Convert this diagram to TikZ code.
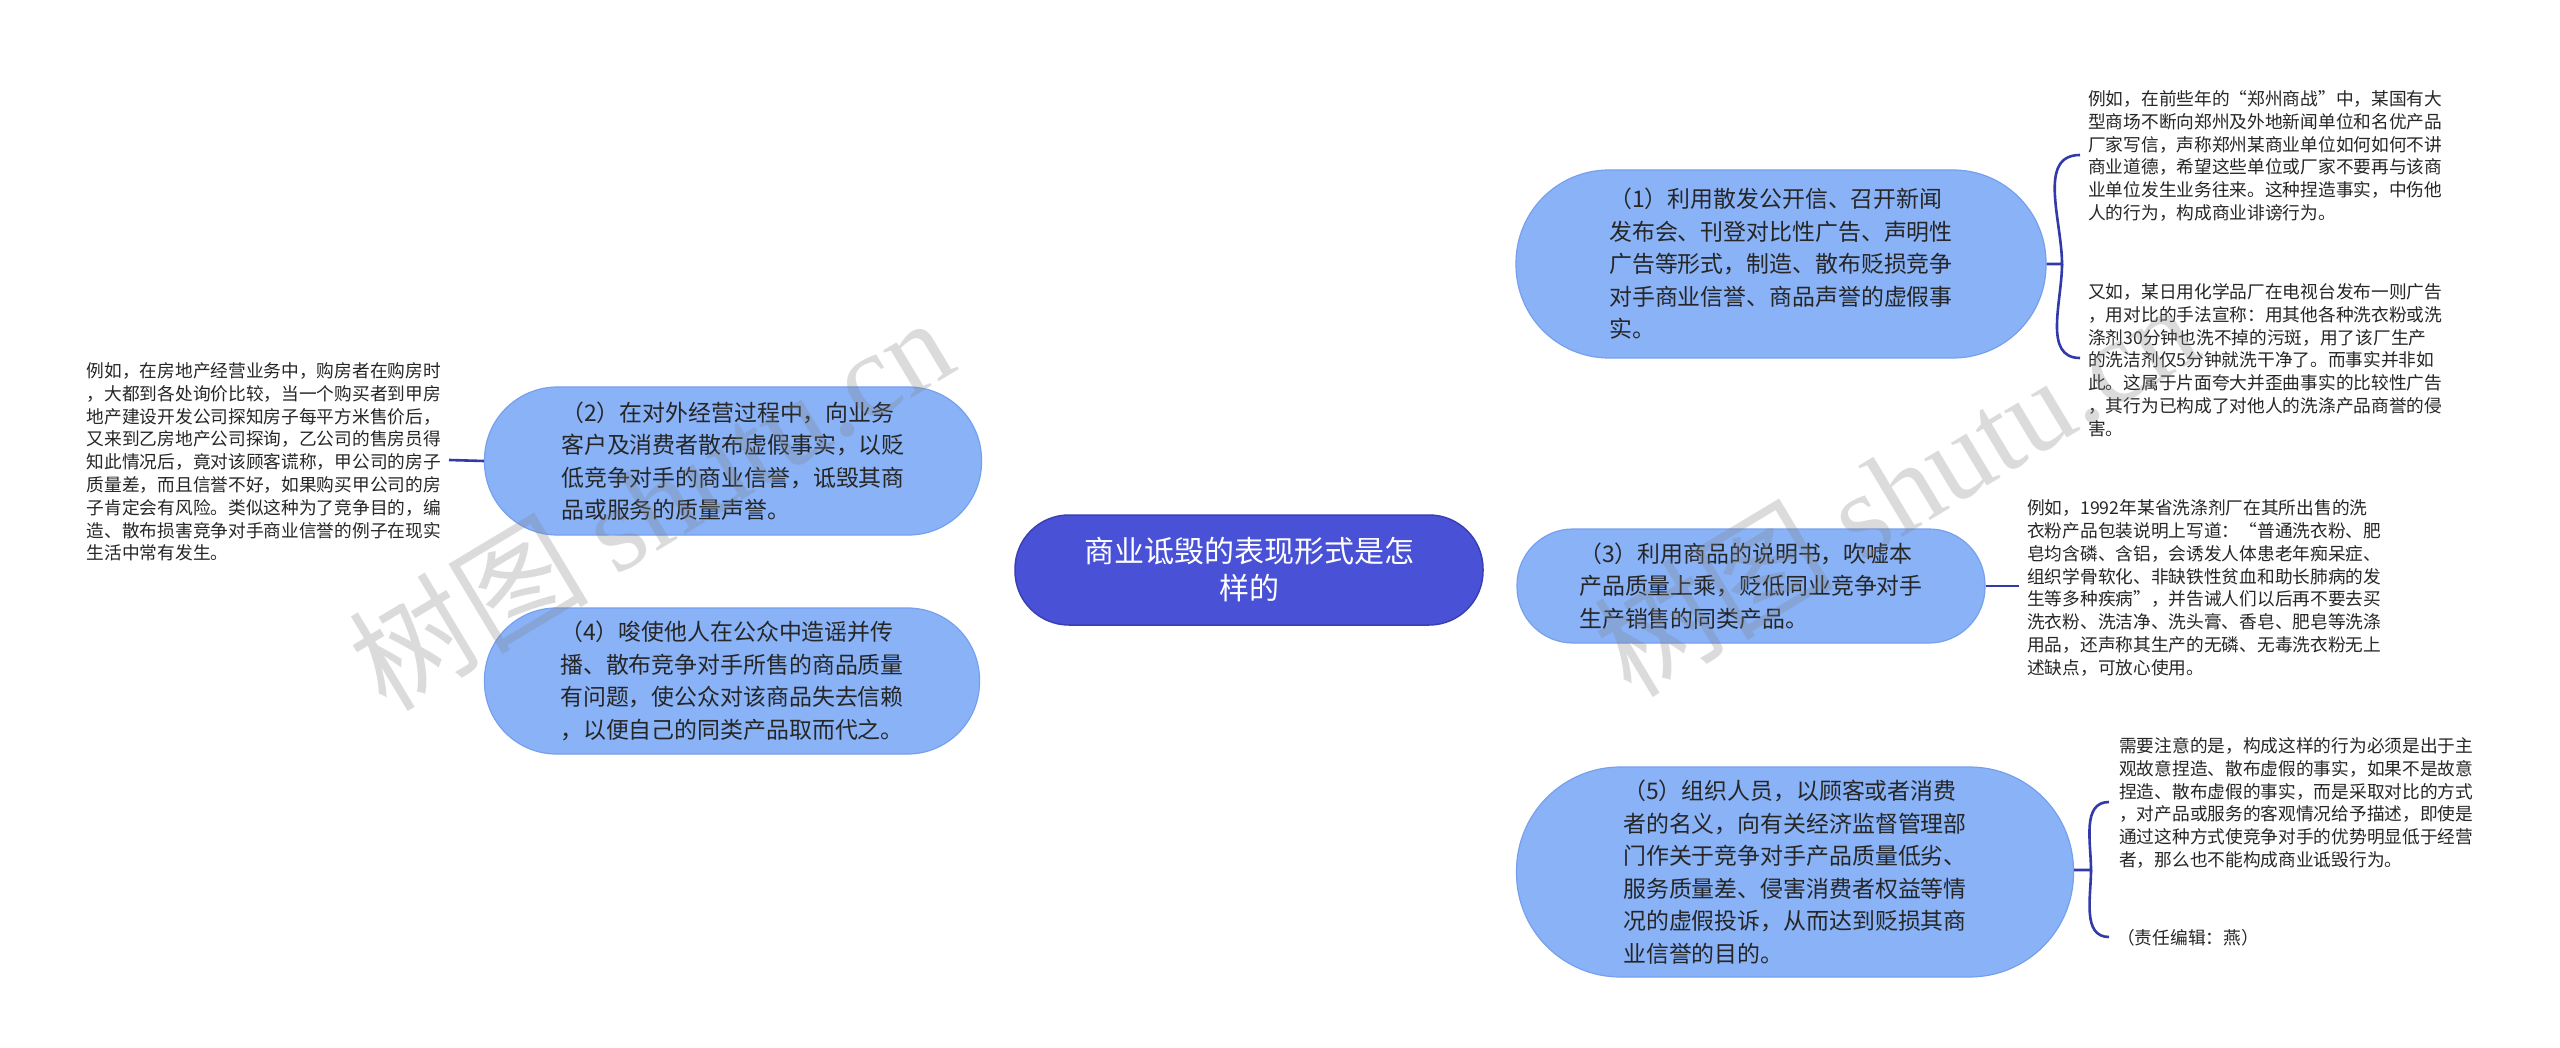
\documentclass[tikz,border=0pt]{standalone}
\usepackage{fontspec}
\setmainfont{Noto Sans CJK SC}
\newfontfamily\wmlatin{Liberation Serif}
\usetikzlibrary{backgrounds}
\definecolor{nodeblue}{RGB}{137,178,247}
\definecolor{nodeedge}{RGB}{118,160,238}
\definecolor{rootblue}{RGB}{73,81,214}
\definecolor{rootedge}{RGB}{58,64,180}
\definecolor{linecol}{RGB}{50,58,168}
\definecolor{textdark}{RGB}{38,38,38}
\tikzset{
  topic/.style={rectangle, fill=nodeblue, draw=nodeedge, line width=1.2pt, text=textdark,
    align=left, inner sep=0pt, font=\fontsize{22.9}{32.5}\selectfont},
  rootbox/.style={rectangle, fill=rootblue, draw=rootedge, line width=1.5pt, text=white,
    align=center, inner sep=0pt, font=\fontsize{30}{37}\selectfont},
  leaf/.style={align=left, inner sep=0pt, text=textdark, font=\fontsize{17.7}{22.8}\selectfont},
  link/.style={draw=linecol, line width=2.6pt},
  wmark/.style={text=gray, opacity=0.28, rotate=31, font=\fontsize{120}{120}\selectfont},
}
\begin{document}
\begin{tikzpicture}[x=1pt,y=-1pt]
\useasboundingbox (0,0) rectangle (2560,1048);
\fill[white] (0,0) rectangle (2560,1048);

% root
\node[rootbox, minimum width=468pt, minimum height=110pt, rounded corners=54pt] (root) at (1249,570)
  {商业诋毁的表现形式是怎\\样的};

% topics
\node[topic, minimum width=530pt, minimum height=188pt, rounded corners=93pt] (n1) at (1781,264)
  {（1）利用散发公开信、召开新闻\\
   发布会、刊登对比性广告、声明性\\
   广告等形式，制造、散布贬损竞争\\
   对手商业信誉、商品声誉的虚假事\\
   实。};
\node[topic, minimum width=497pt, minimum height=148pt, rounded corners=73pt] (n2) at (733,461)
  {（2）在对外经营过程中，向业务\\
   客户及消费者散布虚假事实，以贬\\
   低竞争对手的商业信誉，诋毁其商\\
   品或服务的质量声誉。};
\node[topic, minimum width=468pt, minimum height=114pt, rounded corners=56pt] (n3) at (1751,586)
  {（3）利用商品的说明书，吹嘘本\\
   产品质量上乘，贬低同业竞争对手\\
   生产销售的同类产品。};
\node[topic, minimum width=495pt, minimum height=146pt, rounded corners=72pt] (n4) at (732,681)
  {（4）唆使他人在公众中造谣并传\\
   播、散布竞争对手所售的商品质量\\
   有问题，使公众对该商品失去信赖\\
   ，以便自己的同类产品取而代之。};
\node[topic, minimum width=557pt, minimum height=210pt, rounded corners=104pt] (n5) at (1795,872)
  {（5）组织人员，以顾客或者消费\\
   者的名义，向有关经济监督管理部\\
   门作关于竞争对手产品质量低劣、\\
   服务质量差、侵害消费者权益等情\\
   况的虚假投诉，从而达到贬损其商\\
   业信誉的目的。};

% leaves
\node[leaf, anchor=west] (l1a) at (2088,156)
  {例如，在前些年的“郑州商战”中，某国有大\\
   型商场不断向郑州及外地新闻单位和名优产品\\
   厂家写信，声称郑州某商业单位如何如何不讲\\
   商业道德，希望这些单位或厂家不要再与该商\\
   业单位发生业务往来。这种捏造事实，中伤他\\
   人的行为，构成商业诽谤行为。};
\node[leaf, anchor=west] (l1b) at (2088,360)
  {又如，某日用化学品厂在电视台发布一则广告\\
   ，用对比的手法宣称：用其他各种洗衣粉或洗\\
   涤剂30分钟也洗不掉的污斑，用了该厂生产\\
   的洗洁剂仅5分钟就洗干净了。而事实并非如\\
   此。这属于片面夸大并歪曲事实的比较性广告\\
   ，其行为已构成了对他人的洗涤产品商誉的侵\\
   害。};
\node[leaf, anchor=west] (l3) at (2027,588)
  {例如，1992年某省洗涤剂厂在其所出售的洗\\
   衣粉产品包装说明上写道：“普通洗衣粉、肥\\
   皂均含磷、含铝，会诱发人体患老年痴呆症、\\
   组织学骨软化、非缺铁性贫血和助长肺病的发\\
   生等多种疾病”，并告诫人们以后再不要去买\\
   洗衣粉、洗洁净、洗头膏、香皂、肥皂等洗涤\\
   用品，还声称其生产的无磷、无毒洗衣粉无上\\
   述缺点，可放心使用。};
\node[leaf, anchor=west] (l5a) at (2119,803)
  {需要注意的是，构成这样的行为必须是出于主\\
   观故意捏造、散布虚假的事实，如果不是故意\\
   捏造、散布虚假的事实，而是采取对比的方式\\
   ，对产品或服务的客观情况给予描述，即使是\\
   通过这种方式使竞争对手的优势明显低于经营\\
   者，那么也不能构成商业诋毁行为。};
\node[leaf, anchor=west] (l5b) at (2117,938) {（责任编辑：燕）};
\node[leaf, anchor=east] (l2) at (441,462)
  {例如，在房地产经营业务中，购房者在购房时\\
   ，大都到各处询价比较，当一个购买者到甲房\\
   地产建设开发公司探知房子每平方米售价后，\\
   又来到乙房地产公司探询，乙公司的售房员得\\
   知此情况后，竟对该顾客谎称，甲公司的房子\\
   质量差，而且信誉不好，如果购买甲公司的房\\
   子肯定会有风险。类似这种为了竞争目的，编\\
   造、散布损害竞争对手商业信誉的例子在现实\\
   生活中常有发生。};

\coordinate (rr) at (1252,570);
\coordinate (rl) at (1240,570);
\coordinate (j1) at (2062,264);
\coordinate (j5) at (2091,870);
\coordinate (e1a) at (2080,155);
\coordinate (e1b) at (2080,358);
\coordinate (e5a) at (2109,802);
\coordinate (e5b) at (2109,937);
\coordinate (e3) at (2019,586);
\coordinate (e2) at (449,460);

\begin{scope}[on background layer]
  \draw[link] (rr) .. controls (1252,340) and (1320,264) .. (n1.west);
  \draw[link] (rr) .. controls (1252,800) and (1320,870) .. (n5.west);
  \draw[link] (rr) -- (n3.west);
  \draw[link] (rl) .. controls (1222,480) and (1080,461) .. (n2.east);
  \draw[link] (rl) .. controls (1222,660) and (1080,681) .. (n4.east);
\end{scope}

\draw[link] (n1.east) -- (j1) to[out=90,in=180] (e1a);
\draw[link] (j1) to[out=-90,in=180] (e1b);
\draw[link] (n5.east |- j5) -- (j5) to[out=90,in=180] (e5a);
\draw[link] (j5) to[out=-90,in=180] (e5b);
\draw[link] (n3.east) -- (e3);
\draw[link] (n2.west) -- (e2);

% watermarks
\node[wmark] (wm1) at (650,502) {树图 {\wmlatin shutu.cn}};
\node[wmark] (wm2) at (1895,488) {树图 {\wmlatin shutu.cn}};
\end{tikzpicture}
\end{document}
